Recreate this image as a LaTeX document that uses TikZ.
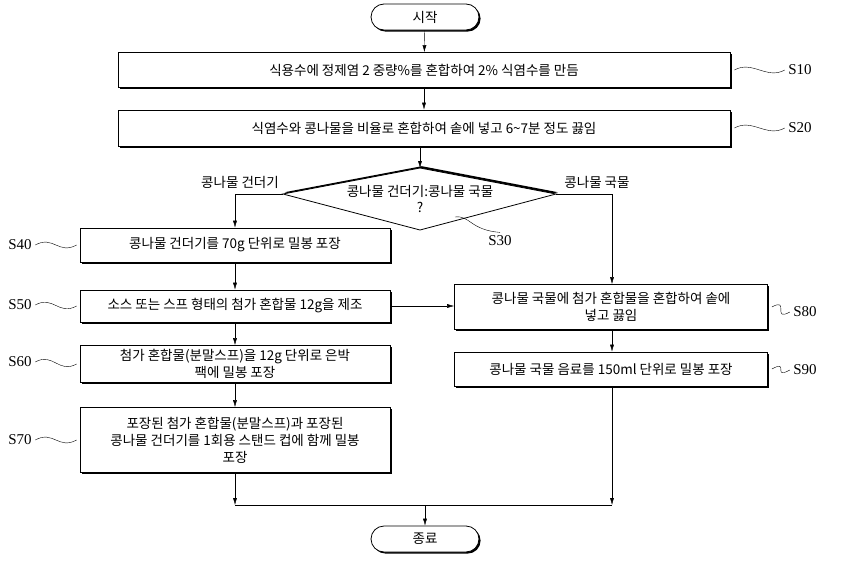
\documentclass[tikz,border=0pt]{standalone}
\usepackage{fontspec}
\usetikzlibrary{arrows.meta}
\setmainfont{Noto Sans CJK KR}
\newfontfamily\lblfont{Liberation Serif}
\begin{document}
\begin{tikzpicture}[x=1pt,y=-1pt,
  box/.style={draw,thick,fill=white,preaction={fill=black,transform canvas={xshift=1.8pt,yshift=-1.8pt}},inner sep=2pt,align=center,font=\fontsize{13.5}{17}\selectfont},
  term/.style={draw,thick,rounded corners=13pt,fill=white,preaction={fill=black,transform canvas={xshift=1.6pt,yshift=-1.6pt}},minimum width=108pt,minimum height=26pt,font=\fontsize{13.5}{15}\selectfont},
  arr/.style={-{Latex[length=7pt,width=4pt]},thin},
  wav/.style={thin},
  lbl/.style={font=\lblfont\fontsize{15}{17}\selectfont},
  txt/.style={font=\fontsize{13.5}{16}\selectfont}]
\useasboundingbox (0,0) rectangle (843,562);
\node[term] (st) at (425,17) {시작};
\node[box,minimum width=612pt,minimum height=35pt] (s10) at (424,70) {식용수에 정제염 2 중량\%를 혼합하여 2\% 식염수를 만듬};
\node[box,minimum width=612pt,minimum height=36pt] (s20) at (424,128) {식염수와 콩나물을 비율로 혼합하여 솥에 넣고 6\textasciitilde7분 정도 끓임};
\coordinate (dl) at (283,194); \coordinate (dr) at (556,194);
\coordinate (dt) at (420,168); \coordinate (db) at (420,230);
\fill[black] ([xshift=1.8pt,yshift=1.8pt]dt) -- ([xshift=1.8pt,yshift=1.8pt]dr) -- ([xshift=1.8pt,yshift=1.8pt]db) -- ([xshift=1.8pt,yshift=1.8pt]dl) -- cycle;
\draw[thick,fill=white] (dt) -- (dr) -- (db) -- (dl) -- cycle;
\node[txt,align=center] (d) at (420,199) {콩나물 건더기:콩나물 국물\\?};
\node[box,minimum width=310pt,minimum height=34pt] (s40) at (235,245) {콩나물 건더기를 70g 단위로 밀봉 포장};
\node[box,minimum width=310pt,minimum height=32pt] (s50) at (235,306) {소스 또는 스프 형태의 첨가 혼합물 12g을 제조};
\node[box,minimum width=310pt,minimum height=37pt] (s60) at (235,364) {첨가 혼합물(분말스프)을 12g 단위로 은박\\팩에 밀봉 포장};
\node[box,minimum width=310pt,minimum height=65pt] (s70) at (235,440) {포장된 첨가 혼합물(분말스프)과 포장된\\콩나물 건더기를 1회용 스탠드 컵에 함께 밀봉\\포장};
\node[box,minimum width=313pt,minimum height=45pt] (s80) at (611,307) {콩나물 국물에 첨가 혼합물을 혼합하여 솥에\\넣고 끓임};
\node[box,minimum width=313pt,minimum height=34pt] (s90) at (611,369) {콩나물 국물 음료를 150ml 단위로 밀봉 포장};
\node[term] (en) at (425,539) {종료};
\node[txt] (ll) at (240,182) {콩나물 건더기};
\node[txt] (rl) at (597,182) {콩나물 국물};
\draw[arr] (st) -- (s10);
\draw[arr] (s10) -- (s20);
\draw[arr] (s20.south -| dt) -- (dt);
\draw[arr] (dl) -| (s40.north);
\draw[arr] (dr) -| (s80.north -| 612,0);
\draw[arr] (s40) -- (s50);
\draw[arr] (s50) -- (s60);
\draw[arr] (s60) -- (s70);
\draw[arr] (s50) -- (s80.west |- s50);
\draw[arr] (s80.south -| 612,0) -- (s90.north -| 612,0);
\coordinate (jl) at (235,505); \coordinate (jr) at (612,505); \coordinate (jm) at (425,505);
\draw[arr] (s70.south) -- (jl);
\draw[arr] (s90.south -| 612,0) -- (jr);
\draw (jl) -- (jr);
\draw[arr] (jm) -- (en);
\node[lbl] (l10) at (800,70) {S10};
\node[lbl] (l20) at (800,128) {S20};
\node[lbl] (l30) at (500,241) {S30};
\node[lbl] (l40) at (20,245) {S40};
\node[lbl] (l50) at (20,305) {S50};
\node[lbl] (l60) at (20,362) {S60};
\node[lbl] (l70) at (20,440) {S70};
\node[lbl] (l80) at (805,312) {S80};
\node[lbl] (l90) at (805,370) {S90};
\draw[wav] ([xshift=4pt]s10.east) .. controls +(18,-10) and +(-18,10) .. (l10.west);
\draw[wav] ([xshift=4pt]s20.east) .. controls +(18,-10) and +(-18,10) .. (l20.west);
\draw[wav] (455,217) .. controls (470,215) and (470,230) .. (l30.north);
\draw[wav] (l40.east) .. controls +(18,-10) and +(-18,10) .. ([xshift=-3pt]s40.west);
\draw[wav] (l50.east) .. controls +(18,-10) and +(-18,10) .. ([xshift=-3pt]s50.west);
\draw[wav] (l60.east) .. controls +(18,-10) and +(-18,10) .. ([xshift=-3pt]s60.west);
\draw[wav] (l70.east) .. controls +(18,-10) and +(-18,10) .. ([xshift=-3pt]s70.west);
\draw[wav] ([xshift=4pt]s80.east) .. controls +(18,-10) and +(-18,10) .. (l80.west);
\draw[wav] ([xshift=4pt]s90.east) .. controls +(18,-10) and +(-18,10) .. (l90.west);
\end{tikzpicture}
\end{document}
